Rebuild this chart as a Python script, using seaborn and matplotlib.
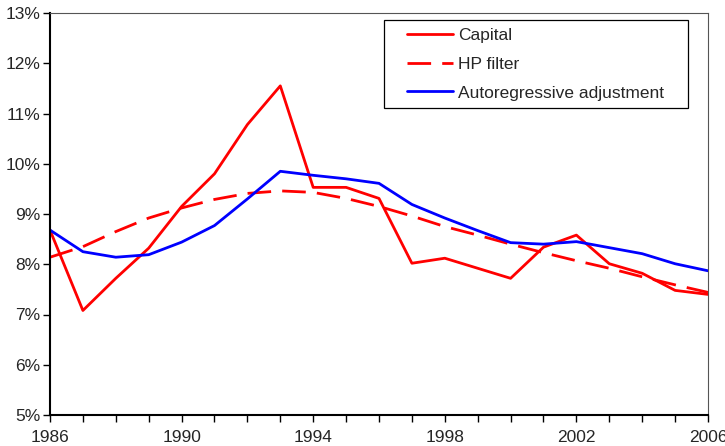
"""Capital series versus HP filter and autoregressive adjustment."""

import matplotlib

matplotlib.use("Agg")

import matplotlib.pyplot as plt
import pandas as pd
import seaborn as sns
from matplotlib.patches import Rectangle
from matplotlib.ticker import FuncFormatter, MultipleLocator

years = list(range(1986, 2007))
year_ticks = [1986, 1990, 1994, 1998, 2002, 2006]

capital = [8.68, 7.08, 7.72, 8.32, 9.15, 9.80, 10.78, 11.55, 9.53, 9.53, 9.31,
           8.02, 8.12, 7.92, 7.72, 8.34, 8.58, 8.01, 7.82, 7.48, 7.40]
hp_filter = [8.14, 8.35, 8.65, 8.92, 9.12, 9.29, 9.41, 9.46, 9.43, 9.31, 9.15,
             8.96, 8.75, 8.58, 8.40, 8.23, 8.07, 7.92, 7.75, 7.59, 7.44]
autoregressive = [8.68, 8.25, 8.14, 8.19, 8.44, 8.77, 9.30, 9.85, 9.77, 9.70, 9.61,
                  9.19, 8.92, 8.67, 8.43, 8.40, 8.45, 8.33, 8.21, 8.01, 7.87]

series_names = ["Capital", "HP filter", "Autoregressive adjustment"]

df = pd.DataFrame(
    {
        "year": years * 3,
        "value": capital + hp_filter + autoregressive,
        "series": [n for n in series_names for _ in years],
    }
)

sns.set_style("white")
plt.rcParams["font.family"] = ["Liberation Sans", "DejaVu Sans"]
plt.rcParams["font.size"] = 12.5

W, H = 725, 446
fig = plt.figure(figsize=(W / 100, H / 100), dpi=100)
ax = fig.add_axes([50 / W, 31 / H, 658 / W, 402 / H])

sns.lineplot(
    data=df,
    x="year",
    y="value",
    hue="series",
    style="series",
    palette={"Capital": "#ff0000", "HP filter": "#ff0000", "Autoregressive adjustment": "#0000ff"},
    dashes={"Capital": "", "HP filter": (8.5, 4), "Autoregressive adjustment": ""},
    linewidth=2,
    ax=ax,
)

ax.set_xlim(1986, 2006)
ax.set_ylim(5, 13)
ax.set_xticks(year_ticks)
ax.set_xticklabels([str(y) for y in year_ticks])
ax.xaxis.set_minor_locator(MultipleLocator(1))
ax.yaxis.set_major_locator(MultipleLocator(1))
ax.yaxis.set_major_formatter(FuncFormatter(lambda v, _: f"{v:.0f}%"))
ax.tick_params(axis="both", which="both", direction="out", color="black", labelsize=12.5)
ax.tick_params(axis="both", which="major", length=5, width=1)
ax.tick_params(axis="x", which="minor", length=5, width=1, bottom=True)
ax.tick_params(axis="x", bottom=True, pad=6)
ax.tick_params(axis="y", left=True, pad=2)
ax.set_xlabel("")
ax.set_ylabel("")

for side in ["left", "bottom"]:
    ax.spines[side].set_color("black")
    ax.spines[side].set_linewidth(1.5)
for side in ["top", "right"]:
    ax.spines[side].set_color("#555555")
    ax.spines[side].set_linewidth(0.8)

ax.legend(
    loc="upper left",
    bbox_to_anchor=((407 - 50) / 658, 1 - (28 - 13) / 402),
    bbox_transform=ax.transAxes,
    frameon=False,
    fontsize=12.5,
    handlelength=2.65,
    handletextpad=0.3,
    borderpad=0,
    borderaxespad=0,
    labelspacing=0.78,
)
fig.patches.append(
    Rectangle(
        (384 / W, 1 - 108 / H),
        (688 - 384) / W,
        (108 - 20) / H,
        transform=fig.transFigure,
        fill=False,
        edgecolor="black",
        linewidth=0.9,
        zorder=5,
    )
)

fig.savefig("out.png", dpi=100)
plt.close(fig)
